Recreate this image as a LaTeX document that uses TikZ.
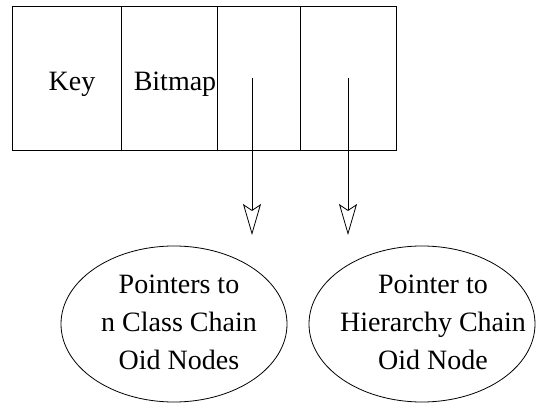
\documentclass[tikz,border=0pt]{standalone}
\usepackage{fontspec}
\setmainfont{Liberation Serif}
\usetikzlibrary{shapes.geometric,arrows.meta}

\begin{document}
\begin{tikzpicture}[x=1pt,y=-1pt,line width=0.8pt,
    cell/.style={draw,rectangle,inner sep=0pt,minimum height=144pt},
    oval/.style={draw,ellipse,inner sep=0pt,minimum width=226pt,minimum height=156pt},
    txt/.style={font=\fontsize{28}{38}\selectfont,align=center,inner sep=0pt},
    ptr/.style={-{Stealth[open,length=31pt,width=18pt,inset=6pt]}}]
      \useasboundingbox (0,0) rectangle (538,403);
      \node[cell,minimum width=109pt] (Key) at (66.5,78) {};
      \node[cell,minimum width=96pt]  (Bm)  at (169,78)  {};
      \node[cell,minimum width=83pt]  (P1)  at (258.5,78) {};
      \node[cell,minimum width=96pt]  (P2)  at (348,78)  {};
      \node[txt,anchor=base] (KeyT) at (72,91)  {Key};
      \node[txt,anchor=base] (BmT)  at (175,91) {Bitmap};
      \node[oval] (Cls) at (174,324) {};
      \node[oval] (Hie) at (422,324) {};
      \node[txt] (ClsT) at (179,322) {Pointers to\\n Class Chain\\Oid Nodes};
      \node[txt] (HieT) at (433,322) {Pointer to\\Hierarchy Chain\\Oid Node};
      \coordinate (s1) at (252,78);
      \coordinate (e1) at (252,235);
      \coordinate (s2) at (348,78);
      \coordinate (e2) at (348,235);
      \draw[ptr] (s1) -- (e1);
      \draw[ptr] (s2) -- (e2);
    \end{tikzpicture}
\end{document}
